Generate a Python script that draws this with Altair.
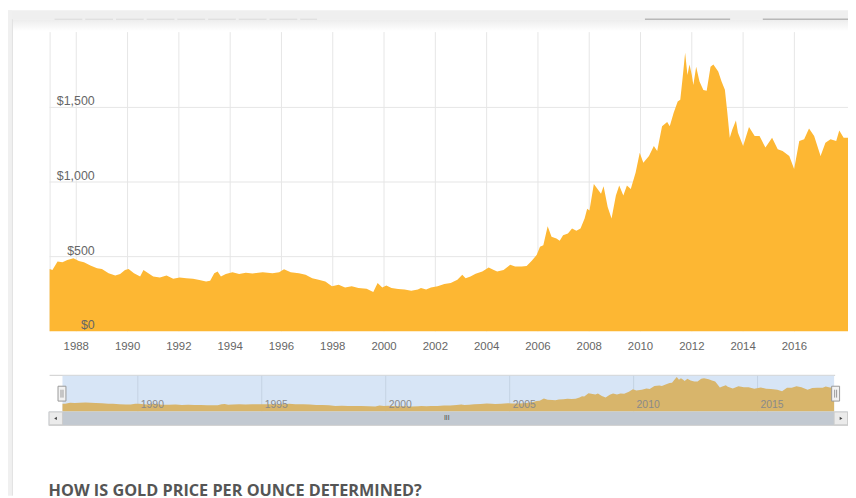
import altair as alt
import pandas as pd

# ---- data (gold price, USD / ounce) ----
years = [1986.96, 1987.07, 1987.27, 1987.46, 1987.65, 1987.89, 1988.10, 1988.30, 1988.55, 1988.81,
         1989.00, 1989.26, 1989.52, 1989.71, 1989.90, 1990.04, 1990.25, 1990.49, 1990.62, 1990.81,
         1991.00, 1991.26, 1991.52, 1991.78, 1992.03, 1992.29, 1992.55, 1992.80, 1993.06, 1993.22,
         1993.38, 1993.51, 1993.64, 1993.83, 1994.09, 1994.35, 1994.61, 1994.87, 1995.27, 1995.65,
         1995.91, 1996.10, 1996.36, 1996.68, 1996.94, 1997.20, 1997.45, 1997.71, 1997.97, 1998.23,
         1998.48, 1998.74, 1999.00, 1999.32, 1999.58, 1999.75, 1999.93, 2000.09, 2000.29, 2000.55,
         2000.80, 2001.06, 2001.32, 2001.44, 2001.64, 2001.83, 2002.09, 2002.35, 2002.60, 2002.86,
         2003.05, 2003.18, 2003.37, 2003.57, 2003.83, 2004.08, 2004.28, 2004.41, 2004.66, 2004.92,
         2005.11, 2005.37, 2005.56, 2005.76, 2005.95, 2006.08, 2006.21, 2006.38, 2006.53, 2006.72,
         2006.85, 2006.98, 2007.17, 2007.33, 2007.50, 2007.66, 2007.82, 2007.92, 2008.01, 2008.18,
         2008.46, 2008.56, 2008.72, 2008.87, 2009.04, 2009.17, 2009.33, 2009.47, 2009.62, 2009.81,
         2009.97, 2010.11, 2010.33, 2010.52, 2010.65, 2010.84, 2011.04, 2011.14, 2011.29, 2011.45,
         2011.55, 2011.64, 2011.74, 2011.83, 2011.91, 2012.00, 2012.06, 2012.17, 2012.30, 2012.45,
         2012.58, 2012.73, 2012.84, 2013.03, 2013.16, 2013.29, 2013.38, 2013.48, 2013.58, 2013.72,
         2013.80, 2014.00, 2014.23, 2014.45, 2014.64, 2014.87, 2015.13, 2015.35, 2015.54, 2015.80,
         2015.99, 2016.19, 2016.38, 2016.57, 2016.77, 2017.02, 2017.21, 2017.41, 2017.63, 2017.75,
         2017.92, 2018.09]

prices = [418, 411, 467, 462, 478, 489, 471, 462, 440, 422,
          418, 389, 374, 383, 411, 418, 389, 367, 411, 389,
          367, 361, 374, 352, 361, 356, 352, 343, 334, 338,
          389, 400, 367, 383, 396, 383, 392, 387, 396, 389,
          396, 416, 396, 389, 378, 356, 345, 334, 301, 312,
          294, 301, 290, 285, 263, 323, 294, 307, 290, 283,
          279, 272, 279, 290, 279, 294, 301, 317, 323, 345,
          378, 356, 367, 385, 400, 427, 411, 400, 411, 445,
          434, 434, 438, 473, 511, 566, 577, 704, 633, 622,
          606, 644, 655, 688, 673, 688, 755, 821, 810, 987,
          921, 971, 832, 755, 909, 976, 910, 976, 954, 1064,
          1197, 1130, 1175, 1241, 1208, 1374, 1402, 1374, 1462, 1540,
          1551, 1695, 1867, 1717, 1787, 1717, 1651, 1772, 1673, 1617,
          1611, 1772, 1787, 1740, 1673, 1618, 1474, 1297, 1352, 1412,
          1330, 1242, 1368, 1308, 1308, 1231, 1297, 1220, 1208, 1175,
          1087, 1275, 1286, 1359, 1308, 1175, 1264, 1286, 1275, 1346,
          1297, 1297]

x_ticks = [1988, 1990, 1992, 1994, 1996, 1998, 2000, 2002, 2004, 2006, 2008, 2010, 2012, 2014, 2016]
y_ticks = [0, 500, 1000, 1500]
y_labels = ["$0", "$500", "$1,000", "$1,500"]
nav_ticks = [1990, 1995, 2000, 2005, 2010, 2015]
heading = "HOW IS GOLD PRICE PER OUNCE DETERMINED?"

df = pd.DataFrame({"year": years, "price": prices})
df_xt = pd.DataFrame({"year": x_ticks, "label": [str(v) for v in x_ticks]})
df_yt = pd.DataFrame({"v": y_ticks, "label": y_labels})
df_grid = pd.DataFrame({"v": [500, 1000, 1500]})
df_nav = pd.DataFrame({"year": nav_ticks, "label": [str(v) for v in nav_ticks]})
one = pd.DataFrame({"a": [0]})

W, H = 848, 490
FONT = "Liberation Sans"

xs = alt.Scale(domain=[1986.96, 2018.09], range=[42, 848], nice=False, zero=False)
ys = alt.Scale(domain=[0, 2000], range=[324, 22.7], nice=False)
xn = alt.Scale(domain=[1986.96, 2018.09], range=[55, 834], nice=False, zero=False)
yn = alt.Scale(domain=[0, 1870], range=[405, 370], nice=False)


def box(x1, x2, y1, y2, **kw):
    return alt.Chart(one).mark_rect(**kw).encode(
        x=alt.value(x1), x2=alt.value(x2), y=alt.value(y1), y2=alt.value(y2))


def hline(x1, x2, y, color, width=1, dash=None):
    kw = dict(color=color, strokeWidth=width)
    if dash:
        kw["strokeDash"] = dash
    return alt.Chart(one).mark_rule(**kw).encode(
        x=alt.value(x1), x2=alt.value(x2), y=alt.value(y))


def vline(x, y1, y2, color, width=1):
    return alt.Chart(one).mark_rule(color=color, strokeWidth=width).encode(
        x=alt.value(x), y=alt.value(y1), y2=alt.value(y2))


# page decorations (grey band + card shadow)
deco = [
    box(0, W, 0, 9, color="#efefef"),
    box(0, W, 9, 21, color=alt.Gradient(
        gradient="linear",
        stops=[alt.GradientStop(color="#ececec", offset=0),
               alt.GradientStop(color="#ffffff", offset=1)],
        x1=0, x2=0, y1=0, y2=1)),
    box(0, 4, 0, H, color="#f0f0f0"),
    vline(4.5, 9, H, "#e2e2e2"),
    hline(47, 312, 9, "#dadada", 1, [28, 3]),
    hline(643, 729, 9, "#b8b8b8", 1.5),
    hline(762, 848, 9, "#b8b8b8", 1.5),
]

# main chart
grid_h = alt.Chart(df_grid).mark_rule(color="#e6e6e6", strokeWidth=1).encode(
    y=alt.Y("v:Q", scale=ys, axis=None), x=alt.value(42), x2=alt.value(848))
grid_v = alt.Chart(df_xt).mark_rule(color="#e6e6e6", strokeWidth=1).encode(
    x=alt.X("year:Q", scale=xs, axis=None), y=alt.value(22), y2=alt.value(324))
left_edge = vline(42.5, 22, 324, "#e6e6e6")
area = alt.Chart(df).mark_area(color="#fdb733", opacity=1).encode(
    x=alt.X("year:Q", scale=xs, axis=None),
    y=alt.Y("price:Q", scale=ys, axis=None))
ylab = alt.Chart(df_yt).mark_text(
    align="right", baseline="alphabetic", dy=-2, fontSize=12.5, font=FONT, color="#666666"
).encode(y=alt.Y("v:Q", scale=ys, axis=None), x=alt.value(87.5), text="label:N")
xlab = alt.Chart(df_xt).mark_text(
    align="center", baseline="alphabetic", fontSize=11.5, font=FONT, color="#666666"
).encode(x=alt.X("year:Q", scale=xs, axis=None), y=alt.value(342.5), text="label:N")

# navigator
nav = [
    hline(42, 835, 368.5, "#cccccc"),
    box(55, 834, 369, 405, color="#d7e5f6"),
]
nav_grid = alt.Chart(df_nav).mark_rule(color="#c4d2e3", strokeWidth=1).encode(
    x=alt.X("year:Q", scale=xn, axis=None), y=alt.value(369), y2=alt.value(405))
nav_area = alt.Chart(df).mark_area(color="#d8b56b", opacity=1).encode(
    x=alt.X("year:Q", scale=xn, axis=None),
    y=alt.Y("price:Q", scale=yn, axis=None))
nav_lab = alt.Chart(df_nav).mark_text(
    align="left", baseline="alphabetic", dx=3, fontSize=10.5, font=FONT, color="#8a8a8a"
).encode(x=alt.X("year:Q", scale=xn, axis=None), y=alt.value(401.5), text="label:N")

scroll = [
    box(41, 848, 405, 419, color="#c2c9d1"),
    box(41.5, 55, 405.5, 418.5, fill="#ebebeb", stroke="#cccccc", strokeWidth=1),
    box(834, 847.5, 405.5, 418.5, fill="#ebebeb", stroke="#cccccc", strokeWidth=1),
    hline(41, 848, 419, "#cccccc"),
    alt.Chart(one).mark_point(shape="triangle-left", filled=True, size=10, color="#444444",
                              opacity=1).encode(x=alt.value(48), y=alt.value(412)),
    alt.Chart(one).mark_point(shape="triangle-right", filled=True, size=10, color="#444444",
                              opacity=1).encode(x=alt.value(841), y=alt.value(412)),
    alt.Chart(one).mark_text(text="III", fontSize=7, font=FONT, color="#444444",
                             align="center", baseline="middle").encode(
        x=alt.value(443), y=alt.value(412)),
    # handles
    box(50.5, 58.5, 379.5, 394.5, fill="#f2f2f2", stroke="#999999", strokeWidth=1),
    vline(53.5, 383, 391, "#999999"),
    vline(55.5, 383, 391, "#999999"),
    box(831.5, 839.5, 379.5, 394.5, fill="#f2f2f2", stroke="#999999", strokeWidth=1),
    vline(834.5, 383, 391, "#999999"),
    vline(836.5, 383, 391, "#999999"),
]

title_txt = alt.Chart(one).mark_text(
    text=heading, align="left", baseline="alphabetic", fontSize=16.4, fontWeight="bold",
    font="Open Sans", color="#555555").encode(x=alt.value(41), y=alt.value(490))

chart = alt.layer(
    *deco, grid_h, grid_v, left_edge, area, ylab, xlab,
    *nav, nav_grid, nav_area, nav_lab, *scroll, title_txt
).resolve_scale(x="independent", y="independent").properties(
    width=W, height=H, autosize=alt.AutoSizeParams(type="none"), padding=0,
    background="#ffffff"
).configure_view(stroke=None)

chart.save("out.html", embed_options={"renderer": "svg", "actions": False})
